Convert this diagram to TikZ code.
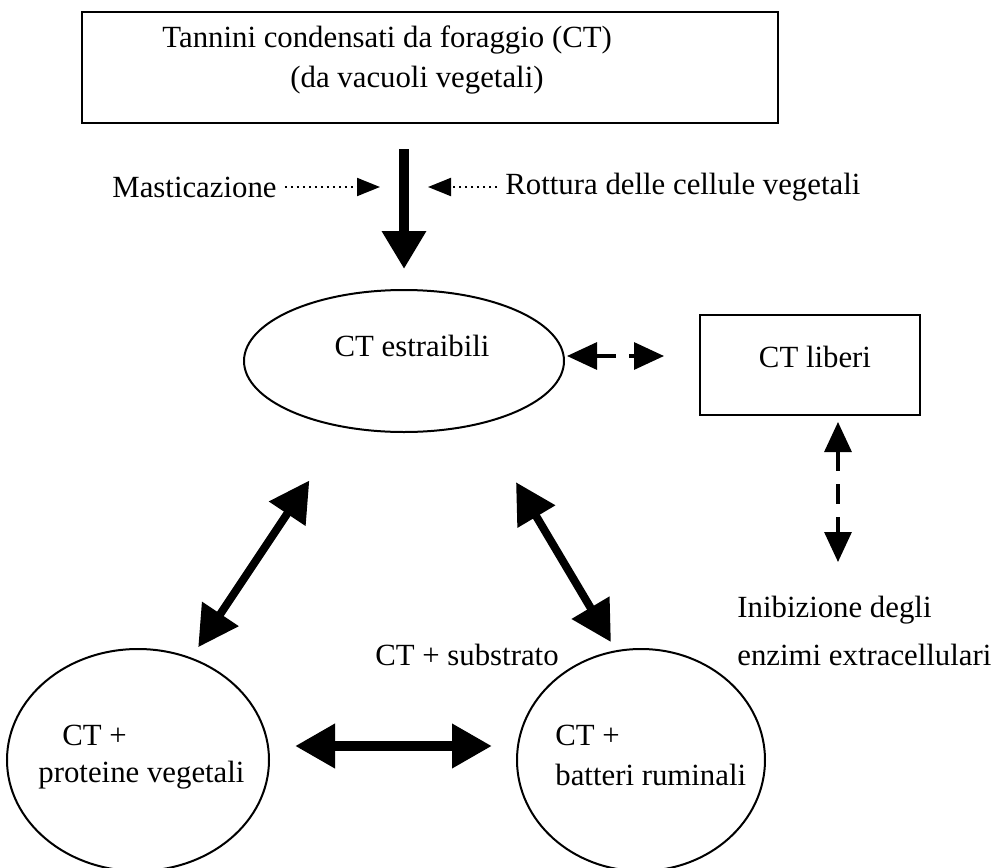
\documentclass[tikz,border=0pt]{standalone}
\usepackage{fontspec}
\setmainfont{Liberation Serif}
\usetikzlibrary{arrows.meta,shapes.geometric,positioning}

\tikzset{
  lbl/.style={inner sep=0pt, font=\fontsize{15.4}{18}\selectfont},
  bigarrow/.style={line width=5pt, -{Triangle[length=19pt,width=21pt]}},
  bigdbl/.style={line width=4pt, {Triangle[length=20pt,width=21pt]}-{Triangle[length=20pt,width=21pt]}},
  dotarrow/.style={line width=1pt, dotted, -{Triangle[length=11.5pt,width=9pt]}},
  dasharrow/.style={line width=1.6pt, dash pattern=on 10pt off 6.5pt,
    {Triangle[length=15pt,width=13.5pt]}-{Triangle[length=15pt,width=13.5pt]}},
}

\begin{document}
\begin{tikzpicture}[x=0.5pt, y=-0.5pt]
  \useasboundingbox (0,0) rectangle (997,868);

  % boxes and ellipses
  \node [draw, line width=1pt, minimum width=348pt, minimum height=55.5pt] (top) at (430,67.5) {};
  \node [lbl, anchor=west] (top1) at (162,40) {Tannini condensati da foraggio (CT)};
  \node [lbl, anchor=west] (top2) at (290,80) {(da vacuoli vegetali)};

  \node [draw, ellipse, line width=1pt, minimum width=160pt, minimum height=71pt] (estr) at (404,361) {};
  \node [lbl] (estrlbl) at (412,346) {CT estraibili};

  \node [draw, line width=1pt, minimum width=110pt, minimum height=50pt] (liberi) at (810,365) {};
  \node [lbl] (liberilbl) at (815,357) {CT liberi};

  \node [draw, ellipse, line width=1pt, minimum width=131pt, minimum height=111pt] (prot) at (138,760) {};
  \node [lbl, anchor=west] (prot1) at (62,735) {CT +};
  \node [lbl, anchor=west] (prot2) at (38,775) {proteine vegetali};

  \node [draw, ellipse, line width=1pt, minimum width=124pt, minimum height=111pt] (bact) at (641,760) {};
  \node [lbl, anchor=west] (bact1) at (555,735) {CT +};
  \node [lbl, anchor=west] (bact2) at (555,775) {batteri ruminali};

  \node [lbl] (subs) at (467,655) {CT + substrato};
  \node [lbl, anchor=west] (inib1) at (737,610) {Inibizione degli};
  \node [lbl, anchor=west] (inib2) at (737,655) {enzimi extracellulari};

  \node [lbl, anchor=west] (mast) at (112,187) {Masticazione};
  \node [lbl, anchor=west] (rott) at (505,187) {Rottura delle cellule vegetali};
  \coordinate (mastend) at (380,187);
  \coordinate (rottend) at (428,187);
  \coordinate (inibtip) at (838,562);

  % connectors
  \draw [bigarrow, shorten <=12.5pt, shorten >=10pt] (estr.north |- top.south) -- (estr.north);
  \draw [dotarrow, shorten <=4pt] (mast.east) -- (mastend);
  \draw [dotarrow, shorten <=4pt] (rott.west) -- (rottend);

  \draw [dasharrow, shorten <=1pt, shorten >=17.5pt] ([yshift=2.5pt]estr.east) -- ([yshift=2.5pt]estr.east -| liberi.west);
  \draw [dasharrow, shorten <=3pt] (liberi.south -| inibtip) -- (inibtip);

  \draw [bigdbl, shorten <=71.8pt, shorten >=67.8pt] ([xshift=-7.5pt]estr.center) -- ([xshift=-7.5pt]prot.center);
  \draw [bigdbl, shorten <=70.5pt, shorten >=68.6pt] ([xshift=20pt]estr.center) -- ([xshift=20pt]bact.center);
  \draw [bigdbl, line width=5pt, shorten <=12.5pt, shorten >=12pt] ([yshift=7pt]prot.east) -- ([yshift=7pt]bact.west);
\end{tikzpicture}
\end{document}
